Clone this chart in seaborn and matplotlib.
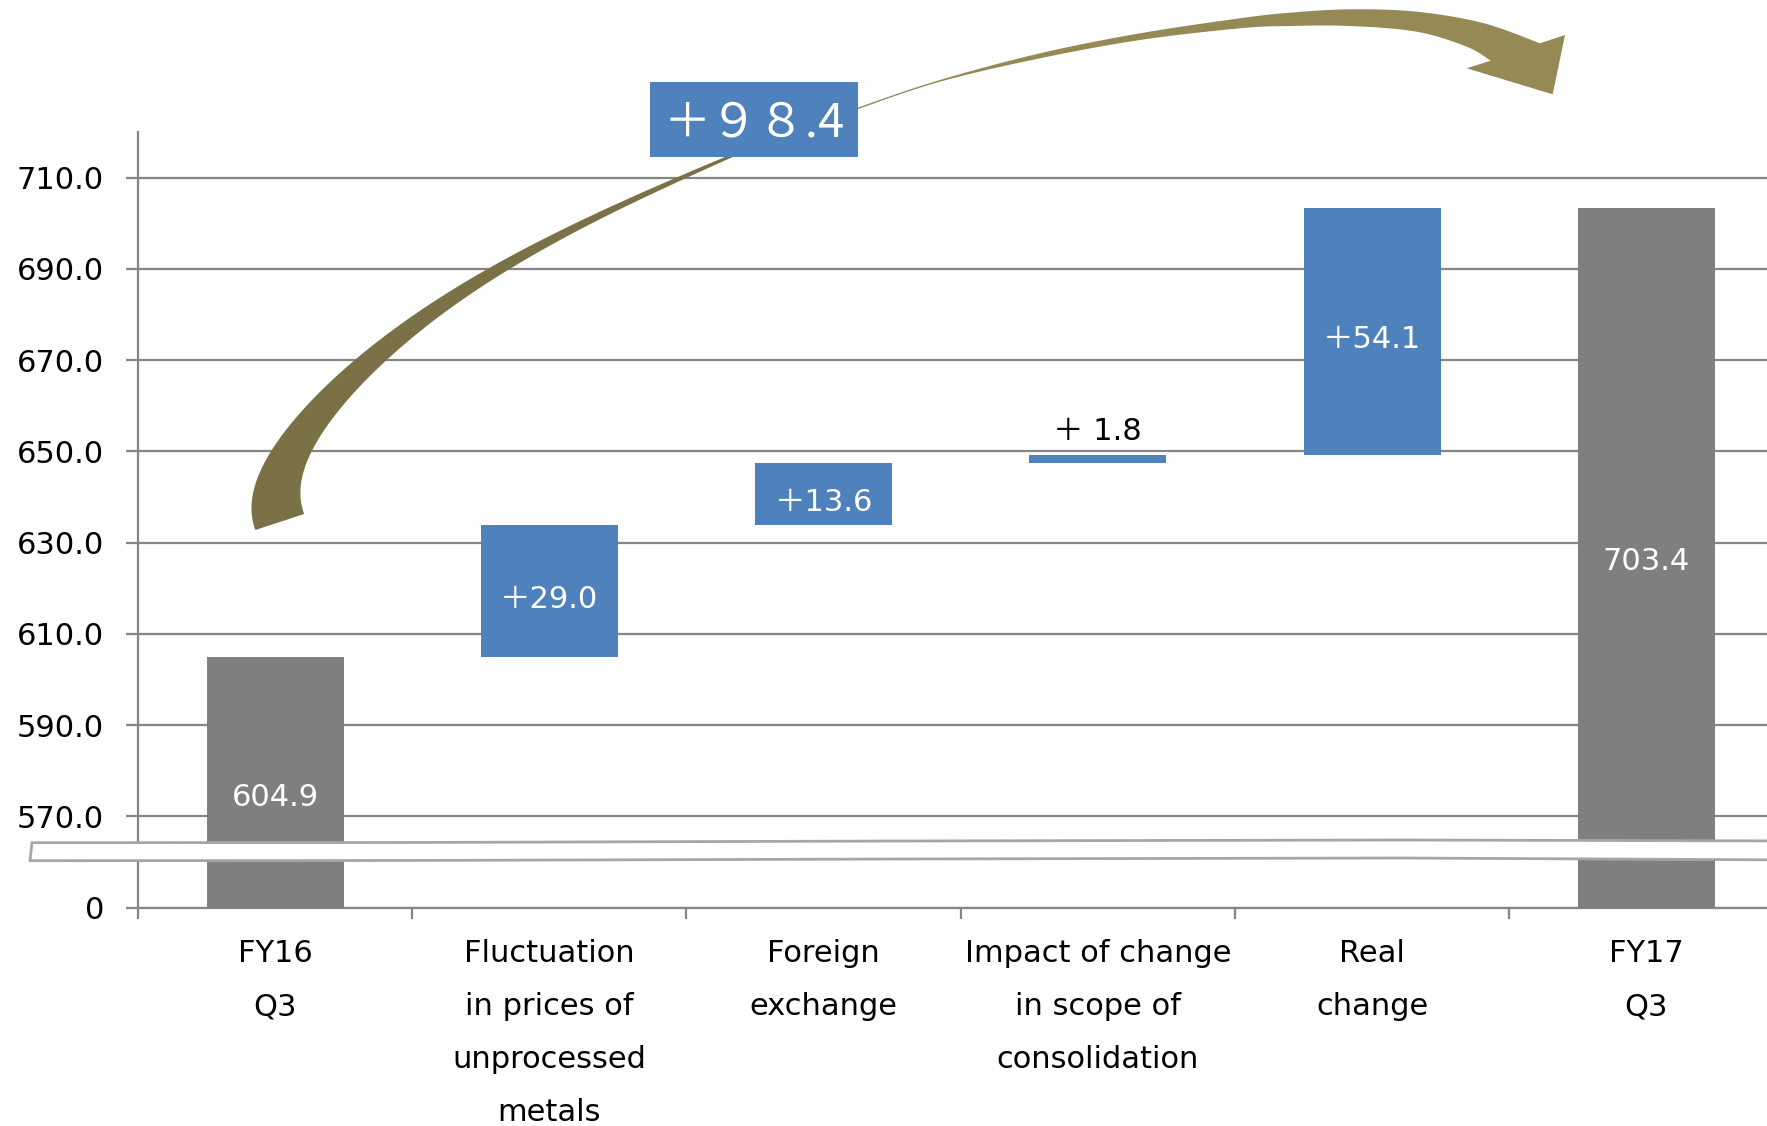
import numpy as np
import pandas as pd
import matplotlib
matplotlib.use("Agg")
import matplotlib.pyplot as plt
from matplotlib.patches import Polygon, Rectangle
import seaborn as sns

# ---------------- data ----------------
categories = [
    "FY16\nQ3",
    "Fluctuation\nin prices of\nunprocessed\nmetals",
    "Foreign\nexchange",
    "Impact of change\nin scope of\nconsolidation",
    "Real\nchange",
    "FY17\nQ3",
]
start_total = 604.9
changes = [29.0, 13.6, 1.8, 54.1]
end_total = 703.4
total_change_label = "＋９８.4"
ytick_values = [550, 570, 590, 610, 630, 650, 670, 690, 710]
ytick_labels = ["0", "570.0", "590.0", "610.0", "630.0", "650.0", "670.0", "690.0", "710.0"]

# ---------------- style ----------------
W, H = 1767, 1126
GRAY_BAR = "#7F7F7F"
BLUE = "#4F81BD"
AXIS_GRAY = "#868686"
AXIS_FLOOR = 550  # position where the broken axis shows "0"

sns.set_theme(style="white")
plt.rcParams["font.family"] = ["DejaVu Sans", "Noto Sans CJK JP"]

fig = plt.figure(figsize=(W / 100, H / 100), dpi=100)
ax = fig.add_axes([138 / W, 1 - 907.5 / H, (W - 138) / W, (907.5 - 132) / H])

# waterfall geometry from the data
running = np.concatenate([[start_total], start_total + np.cumsum(changes)])
bottoms = [AXIS_FLOOR] + list(running[:-1]) + [AXIS_FLOOR]
tops = [start_total] + list(running[1:]) + [end_total]
heights = [t - b for t, b in zip(tops, bottoms)]
colors = [GRAY_BAR] + [BLUE] * len(changes) + [GRAY_BAR]

df = pd.DataFrame({"step": categories, "height": heights})
sns.barplot(data=df, x="step", y="height", hue="step", palette=colors,
            legend=False, width=0.5, saturation=1, ax=ax, zorder=3)
for patch, b, h in zip(ax.patches, bottoms, heights):
    patch.set_y(b)
    patch.set_height(h)
    patch.set_linewidth(0)

ax.set_xlim(-0.5, 5.44)
ax.set_ylim(AXIS_FLOOR, 720)
ax.set_xlabel("")
ax.set_ylabel("")

# grid & spines
ax.set_axisbelow(True)
ax.yaxis.grid(True, color=AXIS_GRAY, linewidth=1.6)
ax.xaxis.grid(False)
for s in ["top", "right"]:
    ax.spines[s].set_visible(False)
for s in ["left", "bottom"]:
    ax.spines[s].set_color(AXIS_GRAY)
    ax.spines[s].set_linewidth(1.6)

ax.set_yticks(ytick_values, ytick_labels)
ax.tick_params(axis="y", which="major", left=True, length=8.5, width=1.6,
               color=AXIS_GRAY, pad=16, labelsize=22, labelcolor="black")

ax.set_xticks(range(len(categories)), categories)
ax.set_xticks(np.arange(-0.5, len(categories) - 1, 1.0), minor=True)
ax.tick_params(axis="x", which="major", length=0, pad=23, labelsize=22,
               labelcolor="black")
ax.tick_params(axis="x", which="minor", bottom=True, length=8, width=1.6,
               color=AXIS_GRAY)
for lab in ax.get_xticklabels():
    lab.set_linespacing(2.04)
    lab.set_multialignment("center")

# value labels
for i, (b, t) in enumerate(zip(bottoms, tops)):
    if i == 0 or i == len(categories) - 1:
        dy = -11 if i == 0 else -3
        ax.annotate(f"{t:.1f}", (i, (b + t) / 2), xytext=(0, dy),
                    textcoords="offset points", ha="center", va="center",
                    color="white", fontsize=22, zorder=5)
    else:
        v = changes[i - 1]
        txt = f"＋{v:4.1f}"
        if v < 5:
            ax.annotate(txt, (i, t), xytext=(0, 6), textcoords="offset points",
                        ha="center", va="bottom", color="black", fontsize=22,
                        zorder=5)
        else:
            ax.annotate(txt, (i, (b + t) / 2), xytext=(0, -6),
                        textcoords="offset points", ha="center", va="center",
                        color="white", fontsize=22, zorder=5)


# ---------------- decorations (figure pixel coordinates) ----------------
def px(pts):
    pts = np.asarray(pts, float)
    return np.column_stack([pts[:, 0] / W, 1 - pts[:, 1] / H])


def smooth(pts, n=14):
    pts = np.asarray(pts, float)
    P = np.vstack([pts[0], pts, pts[-1]])
    out = []
    for i in range(1, len(P) - 2):
        p0, p1, p2, p3 = P[i - 1], P[i], P[i + 1], P[i + 2]
        for t in np.linspace(0, 1, n, endpoint=False):
            t2, t3 = t * t, t * t * t
            out.append(0.5 * ((2 * p1) + (-p0 + p2) * t
                              + (2 * p0 - 5 * p1 + 4 * p2 - p3) * t2
                              + (-p0 + 3 * p1 - 3 * p2 + p3) * t3))
    out.append(pts[-1])
    return np.array(out)


def fit_edge(pts, deg=5, n=200):
    """Least-squares smooth edge x = f(y) through traced outline points."""
    pts = np.asarray(pts, float)
    y0, y1 = pts[:, 1].min(), pts[:, 1].max()
    yn = (pts[:, 1] - y0) / (y1 - y0)
    coef = np.polyfit(yn, pts[:, 0], deg)
    ys = np.linspace(pts[0, 1], pts[-1, 1], n)
    xs = np.polyval(coef, (ys - y0) / (y1 - y0))
    return np.column_stack([xs, ys])


# lower (rising) part of the curved arrow
outer = [(255, 530), (252.7, 510), (253.3, 490), (260, 470), (270, 451.7),
         (286.7, 430), (310, 403.3), (330, 383.3), (353.3, 360), (390, 331.7),
         (430, 303.3), (490, 268.3), (563.3, 230), (630, 196.7),
         (683.3, 175), (730, 155), (780, 134)]
inner = [(304, 514), (301, 493.3), (303.3, 470), (311.7, 451.7),
         (326.7, 426.7), (350, 398.3), (383.3, 360), (423.3, 330),
         (463.3, 301.7), (506.7, 268.3), (563.3, 238.3), (630, 205),
         (690, 176.7), (730, 157.5), (780, 136)]
lower_poly = np.vstack([fit_edge(outer), fit_edge(inner)[::-1]])
fig.add_artist(Polygon(px(lower_poly), closed=True, transform=fig.transFigure,
                       facecolor="#7A7246", edgecolor="none", zorder=10))

# upper part with arrow head
top_edge = [(840, 116), (858.3, 107.5), (940, 80), (1040, 53.3), (1140, 33.3),
            (1240, 18.3), (1290, 12.7), (1350, 9.3), (1416.7, 11.7),
            (1483, 23), (1540, 43.3)]
head = [(1565, 35), (1552.7, 94.3), (1466.7, 68.3), (1490.7, 60.7)]
bottom_edge = [(1490.7, 60.7), (1466.7, 46.7), (1416.7, 31.7), (1350, 26),
               (1290, 26), (1240, 28.3), (1140, 40), (1040, 58.3),
               (940, 81.7), (858.3, 109), (840, 117)]
upper_poly = np.vstack([smooth(top_edge), np.array(head[:3]),
                        smooth(bottom_edge)])
fig.add_artist(Polygon(px(upper_poly), closed=True, transform=fig.transFigure,
                       facecolor="#958A55", edgecolor="none", zorder=10))

# total change box
fig.add_artist(Rectangle((650 / W, 1 - 157 / H), 208 / W, 75 / H,
                         transform=fig.transFigure, facecolor=BLUE,
                         edgecolor="none", zorder=11))
fig.text(754 / W, 1 - 123 / H, total_change_label, ha="center", va="center",
         color="white", fontsize=34, family=["Noto Sans CJK JP", "DejaVu Sans"],
         zorder=12)

# axis break band
band_top = [(32, 842.7), (400, 842.5), (900, 841.0), (1400, 840.0), (1800, 841.0)]
band_bot = [(1800, 860.0), (1400, 858.0), (900, 859.0), (400, 860.5), (30, 860.7)]
fig.add_artist(Polygon(px(band_top + band_bot), closed=True,
                       transform=fig.transFigure, facecolor="white",
                       edgecolor="#A6A6A6", linewidth=2.0, zorder=13))

fig.savefig("out.png", dpi=100)
